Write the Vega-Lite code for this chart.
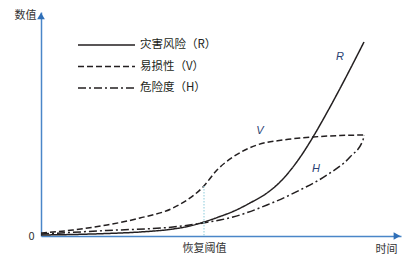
{
  "$schema": "https://vega.github.io/schema/vega-lite/v6.json",
  "width": 360,
  "height": 224,
  "autosize": "none",
  "padding": {"left": 41, "top": 12, "right": 9, "bottom": 23},
  "config": {
    "view": {"stroke": null},
    "font": "Noto Sans CJK SC",
    "axis": {"grid": false, "ticks": false, "domainColor": "#4a86c8", "domainWidth": 1.5, "labelColor": "#333333", "titleColor": "#333333", "labelFont": "Noto Sans CJK SC", "titleFont": "Noto Sans CJK SC", "titleFontWeight": "normal", "labelFontSize": 11, "titleFontSize": 11}
  },
  "datasets": {
    "curves": [
      {"series": "灾害风险（R）", "t": 0, "v": 1},
      {"series": "灾害风险（R）", "t": 32, "v": 1.5},
      {"series": "灾害风险（R）", "t": 66, "v": 2.5},
      {"series": "灾害风险（R）", "t": 99, "v": 4},
      {"series": "灾害风险（R）", "t": 132, "v": 7},
      {"series": "灾害风险（R）", "t": 149, "v": 10},
      {"series": "灾害风险（R）", "t": 163, "v": 14},
      {"series": "灾害风险（R）", "t": 179, "v": 19.5},
      {"series": "灾害风险（R）", "t": 192, "v": 24.5},
      {"series": "灾害风险（R）", "t": 209, "v": 33},
      {"series": "灾害风险（R）", "t": 226, "v": 43},
      {"series": "灾害风险（R）", "t": 239, "v": 54},
      {"series": "灾害风险（R）", "t": 252, "v": 69},
      {"series": "灾害风险（R）", "t": 262, "v": 83},
      {"series": "灾害风险（R）", "t": 272, "v": 99},
      {"series": "灾害风险（R）", "t": 286, "v": 123.5},
      {"series": "灾害风险（R）", "t": 299, "v": 147.5},
      {"series": "灾害风险（R）", "t": 311, "v": 170.5},
      {"series": "灾害风险（R）", "t": 323, "v": 194},
      {"series": "易损性（V）", "t": 0, "v": 3},
      {"series": "易损性（V）", "t": 32, "v": 6},
      {"series": "易损性（V）", "t": 66, "v": 11},
      {"series": "易损性（V）", "t": 99, "v": 18},
      {"series": "易损性（V）", "t": 132, "v": 28},
      {"series": "易损性（V）", "t": 146, "v": 36},
      {"series": "易损性（V）", "t": 162, "v": 49},
      {"series": "易损性（V）", "t": 176, "v": 66},
      {"series": "易损性（V）", "t": 192, "v": 79},
      {"series": "易损性（V）", "t": 216, "v": 91},
      {"series": "易损性（V）", "t": 242, "v": 96},
      {"series": "易损性（V）", "t": 272, "v": 99},
      {"series": "易损性（V）", "t": 299, "v": 100.5},
      {"series": "易损性（V）", "t": 322, "v": 101},
      {"series": "危险度（H）", "t": 0, "v": 2},
      {"series": "危险度（H）", "t": 66, "v": 5.5},
      {"series": "危险度（H）", "t": 132, "v": 9},
      {"series": "危险度（H）", "t": 162, "v": 13},
      {"series": "危险度（H）", "t": 179, "v": 16},
      {"series": "危险度（H）", "t": 192, "v": 19},
      {"series": "危险度（H）", "t": 226, "v": 31},
      {"series": "危险度（H）", "t": 259, "v": 46},
      {"series": "危险度（H）", "t": 286, "v": 61},
      {"series": "危险度（H）", "t": 309, "v": 79},
      {"series": "危险度（H）", "t": 322, "v": 96},
      {"series": "危险度（H）", "t": 323, "v": 101}
    ],
    "labels": [
      {"label": "R", "t": 299, "v": 179},
      {"label": "V", "t": 219, "v": 105},
      {"label": "H", "t": 275, "v": 67}
    ],
    "threshold": [{"t": 163, "v": 50}],
    "legend": [
      {"series": "灾害风险（R）"},
      {"series": "易损性（V）"},
      {"series": "危险度（H）"}
    ]
  },
  "layer": [
    {
      "layer": [
        {
          "data": {"name": "curves"},
          "mark": {"type": "line", "interpolate": "monotone", "color": "#231f20", "strokeWidth": 1.5},
          "encoding": {
            "x": {"field": "t", "type": "quantitative", "scale": {"domain": [0, 360], "nice": false, "zero": false},
                  "axis": {"values": [163], "labelExpr": "'恢复阈值'", "labelPadding": 6, "title": "时间", "titleX": 345, "titleY": 7, "titleBaseline": "top", "titleAlign": "center"}},
            "y": {"field": "v", "type": "quantitative", "scale": {"domain": [0, 224], "nice": false, "zero": false},
                  "axis": {"values": [0], "labelPadding": 7, "title": "数值", "titleAngle": 0, "titleX": -16, "titleY": 3, "titleAlign": "center", "titleBaseline": "middle"}},
            "strokeDash": {"field": "series", "type": "nominal", "legend": null,
                           "scale": {"domain": ["灾害风险（R）", "易损性（V）", "危险度（H）"], "range": [[1, 0], [6, 3], [8, 3, 2, 3]]}}
          }
        },
        {
          "data": {"name": "threshold"},
          "mark": {"type": "rule", "color": "#a6d8e4", "strokeWidth": 1.3, "strokeDash": [1.5, 1.5]},
          "encoding": {
            "x": {"field": "t", "type": "quantitative"},
            "y": {"field": "v", "type": "quantitative"},
            "y2": {"datum": 0}
          }
        },
        {
          "data": {"name": "labels"},
          "mark": {"type": "text", "font": "Liberation Sans", "fontStyle": "italic", "fontSize": 11, "color": "#2b3f73"},
          "encoding": {
            "x": {"field": "t", "type": "quantitative"},
            "y": {"field": "v", "type": "quantitative"},
            "text": {"field": "label"}
          }
        },
        {
          "data": {"values": [{}]},
          "mark": {"type": "point", "shape": "triangle-right", "filled": true, "color": "#2f6fb8", "size": 60, "opacity": 1},
          "encoding": {"x": {"datum": 356}, "y": {"datum": 0}}
        },
        {
          "data": {"values": [{}]},
          "mark": {"type": "point", "shape": "triangle-up", "filled": true, "color": "#2f6fb8", "size": 60, "opacity": 1},
          "encoding": {"x": {"datum": 0}, "y": {"datum": 220}}
        }
      ]
    },
    {
      "data": {"name": "legend"},
      "layer": [
        {
          "mark": {"type": "rule", "color": "#231f20", "strokeWidth": 1.5},
          "encoding": {
            "x": {"datum": 37},
            "x2": {"datum": 94},
            "y": {"field": "series", "type": "nominal", "axis": null,
                  "scale": {"type": "point", "domain": ["灾害风险（R）", "易损性（V）", "危险度（H）"], "range": [33, 76], "padding": 0}},
            "strokeDash": {"field": "series", "type": "nominal", "legend": null}
          }
        },
        {
          "mark": {"type": "text", "align": "left", "baseline": "middle", "fontSize": 11.5, "color": "#231f20", "font": "Noto Sans CJK SC"},
          "encoding": {
            "x": {"datum": 99},
            "y": {"field": "series", "type": "nominal", "axis": null},
            "text": {"field": "series"}
          }
        }
      ]
    }
  ],
  "resolve": {"scale": {"y": "independent"}}
}
